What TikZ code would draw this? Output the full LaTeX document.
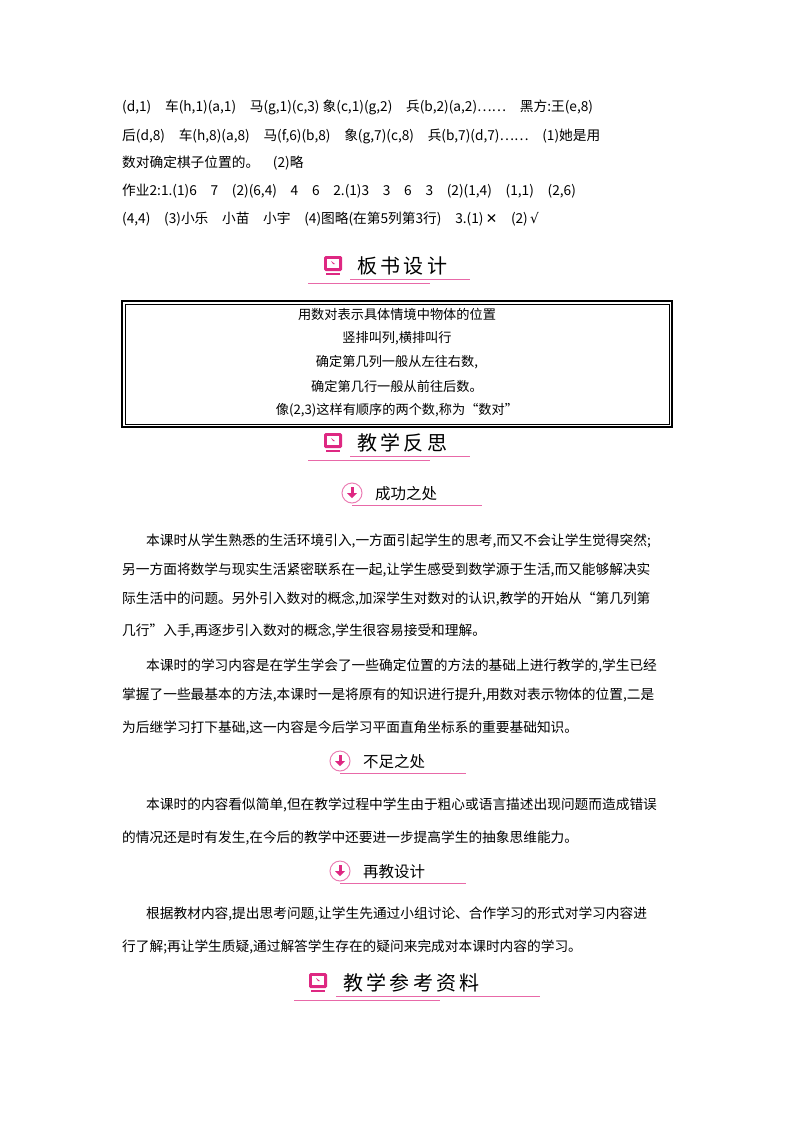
\documentclass[tikz,border=0pt]{standalone}
\usepackage{fontspec}
\setmainfont{Noto Sans CJK SC}
\newfontfamily\djv{DejaVu Sans}
\begin{document}
\begin{tikzpicture}[x=1pt,y=-1pt,
  line/.style={anchor=west,inner sep=0pt,font=\fontsize{13.7}{15}\selectfont},
  ctr/.style={inner sep=0pt,font=\fontsize{13.2}{15}\selectfont},
  head/.style={inner sep=0pt,font=\fontsize{20}{22}\selectfont},
  sub/.style={inner sep=0pt,font=\fontsize{15.5}{18}\selectfont}]
\definecolor{pk}{RGB}{222,40,130}
\useasboundingbox (0,0) rectangle (800,1132);
\newcommand{\mon}[2]{%
  \fill[pk,rounded corners=1.5pt] (#1-9,#2-9) rectangle (#1+9,#2+6);
  \fill[white] (#1-6,#2-6) rectangle (#1+6,#2+3);
  \fill[pk] (#1-2,#2-4) -- (#1+2,#2-1) -- (#1,#2-1) -- cycle;
  \fill[pk] (#1-7,#2+8) rectangle (#1+7,#2+10);}
\newcommand{\dwn}[2]{%
  \draw[pk!60,line width=1pt] (#1,#2) circle (10);
  \fill[pk] (#1-1.5,#2-6) rectangle (#1+1.5,#2);
  \fill[pk] (#1-5,#2) -- (#1+5,#2) -- (#1,#2+5) -- cycle;}
% top text
\node[line] (l1) at (122,107) {(d,1)\quad 车(h,1)(a,1)\quad 马(g,1)(c,3)\ 象(c,1)(g,2)\quad 兵(b,2)(a,2)……\quad 黑方:王(e,8)};
\node[line] (l2) at (122,136) {后(d,8)\quad 车(h,8)(a,8)\quad 马(f,6)(b,8)\quad 象(g,7)(c,8)\quad 兵(b,7)(d,7)……\quad (1)她是用};
\node[line] (l3) at (122,163) {数对确定棋子位置的。\quad (2)略};
\node[line] (l4) at (122,191) {作业2:1.(1)6\quad 7\quad (2)(6,4)\quad 4\quad 6\quad 2.(1)3\quad 3\quad 6\quad 3\quad (2)(1,4)\quad (1,1)\quad (2,6)};
\node[line] (l5) at (122,219) {(4,4)\quad (3)小乐\quad 小苗\quad 小宇\quad (4)图略(在第5列第3行)\quad 3.(1)\,{\djv ✕}\quad (2)\,{\djv √}};
% header 1
\mon{333}{265}
\node[head,anchor=west] (h1) at (357,266) {板\,书\,设\,计};
\draw[pk!70,line width=0.8pt] (350,279) -- (470,279);
\draw[pk!70,line width=0.8pt] (308,283) -- (430,283);
% box
\draw[line width=1.6pt] (122,301) rectangle (672,427);
\draw[line width=0.5pt] (125,304) rectangle (669,424);
\node[ctr] (b1) at (397,314) {用数对表示具体情境中物体的位置};
\node[ctr] (b2) at (397,338) {竖排叫列,横排叫行};
\node[ctr] (b3) at (397,362) {确定第几列一般从左往右数,};
\node[ctr] (b4) at (397,386) {确定第几行一般从前往后数。};
\node[ctr] (b5) at (397,410) {像(2,3)这样有顺序的两个数,称为“数对”};
% header 2
\mon{333}{442}
\node[head,anchor=west] (h2) at (357,443) {教\,学\,反\,思};
\draw[pk!70,line width=0.8pt] (350,456) -- (470,456);
\draw[pk!70,line width=0.8pt] (308,460) -- (430,460);
% sub 1
\dwn{352}{493}
\node[sub,anchor=west] (s1) at (375,494) {成功之处};
\draw[pk!70,line width=0.8pt] (352,505) -- (482,505);
\node[line] (p1) at (146,541) {本课时从学生熟悉的生活环境引入,一方面引起学生的思考,而又不会让学生觉得突然;};
\node[line] (p2) at (122,570) {另一方面将数学与现实生活紧密联系在一起,让学生感受到数学源于生活,而又能够解决实};
\node[line] (p3) at (122,599) {际生活中的问题。另外引入数对的概念,加深学生对数对的认识,教学的开始从“第几列第};
\node[line] (p4) at (122,631) {几行”入手,再逐步引入数对的概念,学生很容易接受和理解。};
\node[line] (p5) at (146,666) {本课时的学习内容是在学生学会了一些确定位置的方法的基础上进行教学的,学生已经};
\node[line] (p6) at (122,695) {掌握了一些最基本的方法,本课时一是将原有的知识进行提升,用数对表示物体的位置,二是};
\node[line] (p7) at (122,728) {为后继学习打下基础,这一内容是今后学习平面直角坐标系的重要基础知识。};
% sub 2
\dwn{340}{761}
\node[sub,anchor=west] (s2) at (363,762) {不足之处};
\draw[pk!70,line width=0.8pt] (340,773) -- (466,773);
\node[line] (q1) at (146,805) {本课时的内容看似简单,但在教学过程中学生由于粗心或语言描述出现问题而造成错误};
\node[line] (q2) at (122,838) {的情况还是时有发生,在今后的教学中还要进一步提高学生的抽象思维能力。};
% sub 3
\dwn{340}{871}
\node[sub,anchor=west] (s3) at (363,872) {再教设计};
\draw[pk!70,line width=0.8pt] (340,883) -- (466,883);
\node[line] (r1) at (146,914) {根据教材内容,提出思考问题,让学生先通过小组讨论、合作学习的形式对学习内容进};
\node[line] (r2) at (122,947) {行了解;再让学生质疑,通过解答学生存在的疑问来完成对本课时内容的学习。};
% header 3
\mon{318}{982}
\node[head,anchor=west] (h3) at (343,983) {教\,学\,参\,考\,资\,料};
\draw[pk!70,line width=0.8pt] (336,996) -- (540,996);
\draw[pk!70,line width=0.8pt] (294,1000) -- (440,1000);
\end{tikzpicture}
\end{document}
